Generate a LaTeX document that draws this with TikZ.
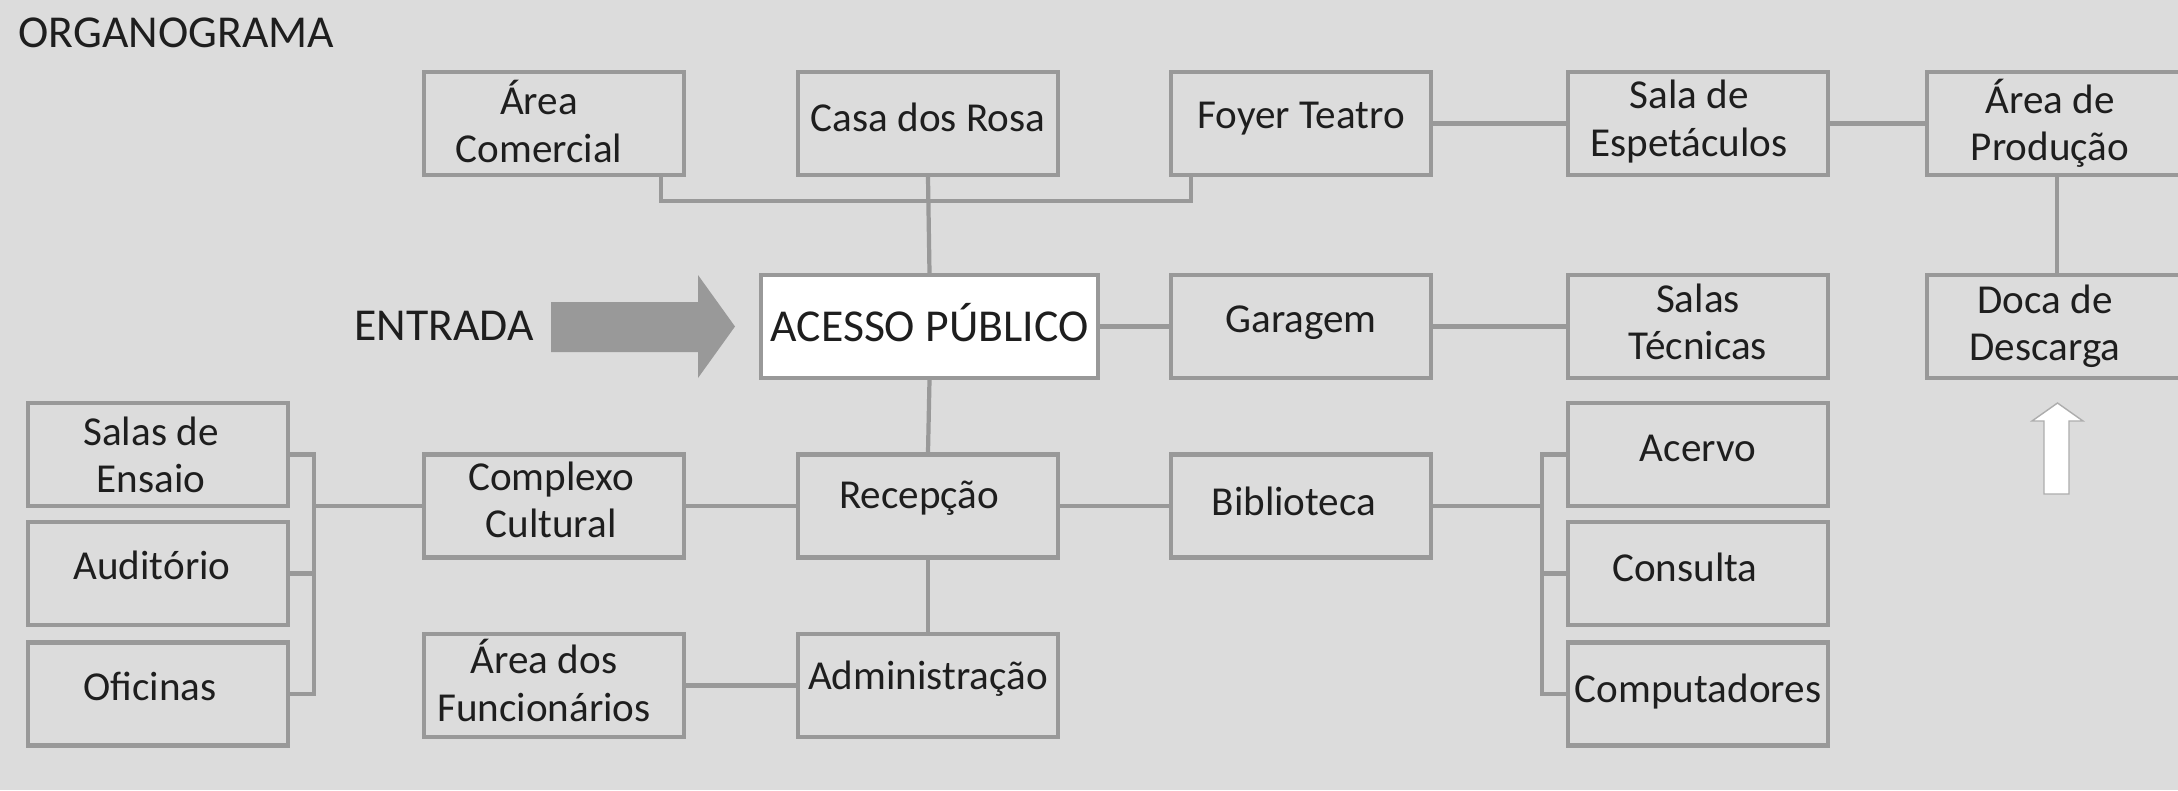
\documentclass[tikz,border=0pt]{standalone}
\usepackage{fontspec}
\setmainfont{Carlito}
\usetikzlibrary{calc}
\definecolor{bg}{HTML}{DCDCDC}
\definecolor{ln}{HTML}{999999}
\definecolor{tx}{HTML}{1E1E1E}
\tikzset{
  box/.style={draw=ln, line width=1.2pt, minimum width=2.6cm, minimum height=1.03cm,
    inner sep=0pt},
  lbl/.style={align=center, text=tx, inner sep=0pt, font=\fontsize{11.7}{13.4}\selectfont},
  conn/.style={draw=ln, line width=1.2pt},
  big/.style={text=tx, font=\fontsize{13}{15}\selectfont, inner sep=0pt}
}
\begin{document}
\begin{tikzpicture}
\fill[bg] (0,0) rectangle (21.78,-7.90);
\useasboundingbox (0,0) rectangle (21.78,-7.90);

\node[big, anchor=base west] (title) at (0.18,-0.47) {ORGANOGRAMA};

% top row
\node[box, label={[lbl, xshift=-0.15cm, yshift=0.02cm]center:Área\\Comercial}] (acom) at (5.54,-1.235) {};
\node[box, label={[lbl, yshift=0.06cm]center:Casa dos Rosa}] (casa) at (9.28,-1.235) {};
\node[box, label={[lbl, yshift=0.05cm]center:Foyer Teatro}] (foyer) at (13.01,-1.235) {};
\node[box, label={[lbl, xshift=-0.09cm, yshift=0.02cm]center:Sala de\\Espetáculos}] (sala) at (16.98,-1.235) {};
\node[box, label={[lbl, xshift=-0.07cm]center:Área de\\Produção}] (aprod) at (20.57,-1.235) {};

% middle row
\node[box, fill=white, minimum width=3.37cm,
  label={[lbl, font=\fontsize{13}{15}\selectfont, yshift=0.04cm]center:ACESSO PÚBLICO}] (acesso) at (9.295,-3.265) {};
\node[box, label={[lbl, yshift=0.04cm]center:Garagem}] (garagem) at (13.01,-3.265) {};
\node[box, label={[lbl, yshift=0.05cm]center:Salas\\Técnicas}] (stec) at (16.98,-3.265) {};
\node[box, label={[lbl, xshift=-0.12cm]center:Doca de\\Descarga}] (doca) at (20.57,-3.265) {};

% lower rows
\node[box, label={[lbl, xshift=-0.07cm]center:Salas de\\Ensaio}] (ensaio) at (1.58,-4.545) {};
\node[box, label={[lbl, xshift=-0.06cm, yshift=0.08cm]center:Auditório}] (audit) at (1.58,-5.735) {};
\node[box, label={[lbl, xshift=-0.08cm, yshift=0.08cm]center:Oficinas}] (ofic) at (1.58,-6.94) {};
\node[box, label={[lbl, xshift=-0.03cm, yshift=0.06cm]center:Complexo\\Cultural}] (complexo) at (5.54,-5.06) {};
\node[box, label={[lbl, xshift=-0.09cm, yshift=0.08cm]center:Recepção}] (recep) at (9.28,-5.06) {};
\node[box, label={[lbl, xshift=-0.07cm, yshift=0.05cm]center:Biblioteca}] (biblio) at (13.01,-5.06) {};
\node[box, label={[lbl, yshift=0.06cm]center:Acervo}] (acervo) at (16.98,-4.545) {};
\node[box, label={[lbl, xshift=-0.13cm, yshift=0.06cm]center:Consulta}] (consulta) at (16.98,-5.735) {};
\node[box, label={[lbl, yshift=0.02cm]center:Computadores}] (comput) at (16.98,-6.94) {};
\node[box, label={[lbl, xshift=-0.1cm, yshift=0.05cm]center:Área dos\\Funcionários}] (afunc) at (5.54,-6.855) {};
\node[box, label={[lbl, yshift=0.07cm]center:Administração}] (admin) at (9.28,-6.855) {};

% connectors
\draw[conn] ([xshift=1.07cm]acom.south) -- ++(0,-0.24) -| ([xshift=-1.1cm]foyer.south);
\draw[conn] (casa.south) -- (acesso.north);
\draw[conn] (acesso.south) -- (recep.north);
\draw[conn] (acesso.east) -- (garagem.west);
\draw[conn] (garagem.east) -- (stec.west);
\draw[conn] (foyer.east) -- (sala.west);
\draw[conn] (sala.east) -- (aprod.west);
\draw[conn] (aprod.south) -- (doca.north);
\draw[conn] (recep.west) -- (complexo.east);
\draw[conn] (recep.east) -- (biblio.west);
\draw[conn] (recep.south) -- (admin.north);
\draw[conn] (afunc.east) -- (admin.west);

\coordinate (bl) at (3.14,-5.06);
\draw[conn] (ensaio.east) -| (bl) |- (ofic.east);
\draw[conn] (audit.east) -- (audit.east -| bl);
\draw[conn] (bl) -- (complexo.west);

\coordinate (br) at (15.42,-5.06);
\draw[conn] (acervo.west) -| (br) |- (comput.west);
\draw[conn] (consulta.west) -- (consulta.west -| br);
\draw[conn] (biblio.east) -- (br);

% entrada arrow
\node[big, anchor=base] (entrada) at (4.44,-3.40) {ENTRADA};
\fill[ln] (5.51,-3.02) -- (6.98,-3.02) -- (6.98,-2.75) -- (7.35,-3.265)
  -- (6.98,-3.78) -- (6.98,-3.52) -- (5.51,-3.52) -- cycle;

% white up arrow
\filldraw[fill=white, draw=ln!80, line width=0.4pt] (20.44,-4.94) -- (20.44,-4.21) -- (20.32,-4.21)
  -- (20.575,-4.03) -- (20.83,-4.21) -- (20.69,-4.21) -- (20.69,-4.94) -- cycle;
\end{tikzpicture}
\end{document}
